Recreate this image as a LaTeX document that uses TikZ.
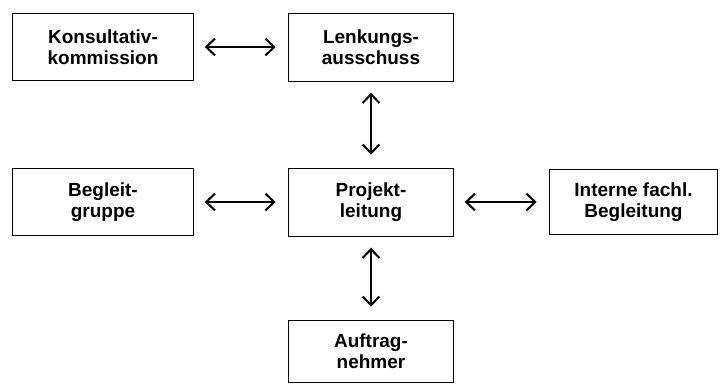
\documentclass[tikz,border=0pt]{standalone}
\usepackage{fontspec}
\setmainfont{Liberation Sans}
\usetikzlibrary{arrows.meta}
\tikzset{
  box/.style={draw, line width=0.7pt, text centered, align=center, inner sep=0pt,
    font=\fontsize{13.5pt}{15pt}\selectfont\bfseries},
  link/.style={line width=1.45pt, {Straight Barb[length=2.2mm,width=4.2mm]}-{Straight Barb[length=2.2mm,width=4.2mm]},
    shorten <=0.28cm, shorten >=0.32cm}
}
\begin{document}
\begin{tikzpicture}[x=0.025cm,y=-0.025cm]
\useasboundingbox (0,0) rectangle (721,383);

    \node[box, minimum width=4.5cm, minimum height=1.675cm] (kons) at (103,47) {Konsultativ-\\kommission};
    \node[box, minimum width=4.1cm, minimum height=1.7cm] (lenk) at (371,47) {Lenkungs-\\ausschuss};
    \node[box, minimum width=4.5cm, minimum height=1.675cm] (begl) at (103,202) {Begleit-\\gruppe};
    \node[box, minimum width=4.1cm, minimum height=1.7cm] (proj) at (371,202) {Projekt-\\leitung};
    \node[box, minimum width=4.175cm, minimum height=1.625cm] (intern) at (633.5,202) {Interne fachl.\\Begleitung};
    \node[box, minimum width=4.1cm, minimum height=1.55cm] (auft) at (371,351) {Auftrag-\\nehmer};

\draw[link] (kons) -- (lenk);
\draw[link] (lenk) -- (proj);
\draw[link] (begl) -- (proj);
\draw[link] (proj) -- (intern);
\draw[link] (proj) -- (auft);
\end{tikzpicture}
\end{document}
